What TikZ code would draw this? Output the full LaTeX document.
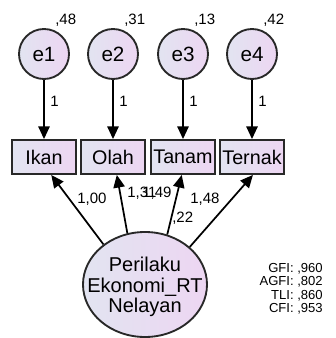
\documentclass[tikz,border=0pt]{standalone}
\usepackage{fontspec}
\setmainfont{Liberation Sans}
\usetikzlibrary{shapes.geometric,arrows.meta}
\definecolor{lavL}{RGB}{226,228,241}
\definecolor{lavR}{RGB}{237,214,242}
\definecolor{edgec}{RGB}{40,40,40}
\tikzset{
  grad/.style={left color=lavL,right color=lavR},
  errc/.style={circle,draw=edgec,line width=1.4pt,grad,minimum size=37.5pt,inner sep=0pt,font=\fontsize{15.5pt}{17pt}\selectfont},
  obs/.style={rectangle,draw=edgec,line width=1.4pt,grad,minimum width=48pt,minimum height=25.5pt,inner sep=0pt,font=\fontsize{14.8pt}{16pt}\selectfont},
  lat/.style={ellipse,draw=edgec,line width=1.4pt,grad,minimum width=93pt,minimum height=78.75pt,inner sep=0pt},
  lattext/.style={inner sep=0pt,align=center,font=\fontsize{15pt}{15.4pt}\selectfont},
  arr/.style={line width=1.3pt,-{Triangle[length=9.5pt,width=8.5pt]}},
  lbl/.style={inner sep=0pt,font=\fontsize{11.25pt}{13pt}\selectfont},
  fitlbl/.style={inner sep=0pt,anchor=base east,font=\fontsize{9.8pt}{11pt}\selectfont}
}
\begin{document}
\begin{tikzpicture}[x=0.75pt,y=-0.75pt]
\useasboundingbox (0,0) rectangle (335,338);
% error terms
\node[errc] (e1) at (44,54) {e1};
\node[errc] (e2) at (113,54) {e2};
\node[errc] (e3) at (183,54) {e3};
\node[errc] (e4) at (252,54) {e4};
% observed
\node[obs] (Ikan) at (44,157) {Ikan};
\node[obs] (Olah) at (113,157) {Olah};
\node[obs] (Tanam) at (183,157) {Tanam};
\node[obs] (Ternak) at (252,157) {Ternak};
% latent
\node[lat] (P) at (145,284.5) {};
\node[lattext] (Ptext) at (145,287) {Perilaku\\Ekonomi\_RT\\Nelayan};
% variances
\node[lbl,anchor=base west] (v1) at (55,25) {,48};
\node[lbl,anchor=base west] (v2) at (124,25) {,31};
\node[lbl,anchor=base west] (v3) at (194,25) {,13};
\node[lbl,anchor=base west] (v4) at (263,25) {,42};
% error paths
\draw[arr] (e1.south) -- (Ikan.north);
\draw[arr] (e2.south) -- (Olah.north);
\draw[arr] (e3.south) -- (Tanam.north);
\draw[arr] (e4.south) -- (Ternak.north);
\node[lbl,anchor=base west] (w1) at (50,107) {1};
\node[lbl,anchor=base west] (w2) at (119,107) {1};
\node[lbl,anchor=base west] (w3) at (189,107) {1};
\node[lbl,anchor=base west] (w4) at (258,107) {1};
% loadings
\draw[arr] (P.136) -- (Ikan.-68);
\draw[arr] (P.109) -- (Olah.-78);
\draw[arr] (P.66) -- (Tanam.-94);
\draw[arr] (P.40) -- (Ternak.-87);
\node[lbl,anchor=base west] (l1) at (77,203) {1,00};
\node[lbl,anchor=base west] (l2) at (127,197) {1,31};
\node[lbl,anchor=base west] (l3) at (142,197) {1,49};
\node[lbl,anchor=base west] (l4) at (190,203) {1,48};
\node[lbl,anchor=base west] (l5) at (172,222) {,22};
% fit indices
\node[fitlbl] (f1) at (323,272) {GFI: ,960};
\node[fitlbl] (f2) at (323,285.5) {AGFI: ,802};
\node[fitlbl] (f3) at (323,299) {TLI: ,860};
\node[fitlbl] (f4) at (323,312.5) {CFI: ,953};
\end{tikzpicture}
\end{document}
